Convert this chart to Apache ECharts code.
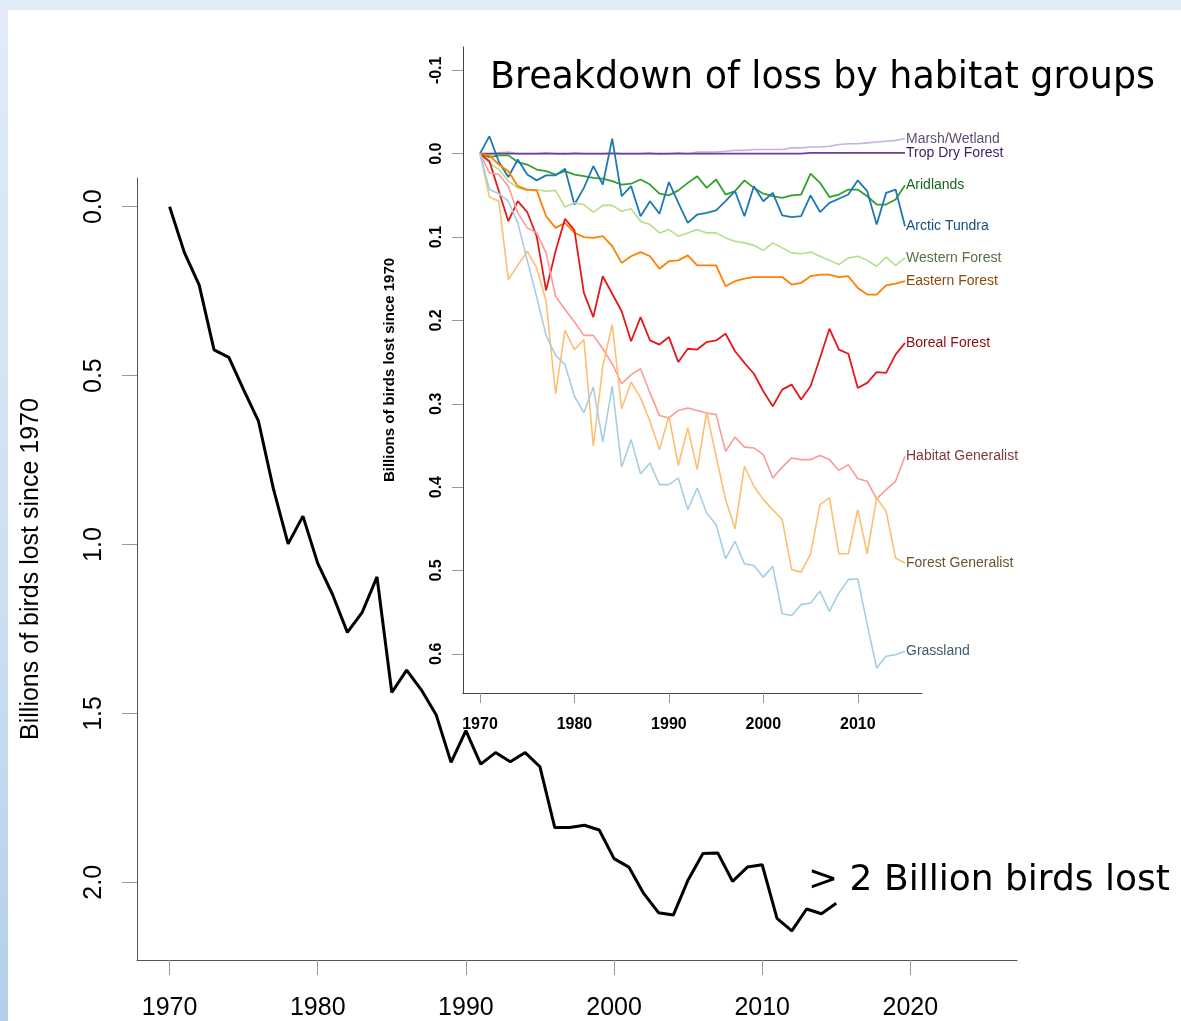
<!DOCTYPE html>
<html>
<head>
<meta charset="utf-8">
<script src="https://cdn.jsdelivr.net/npm/echarts@6/dist/echarts.min.js"></script>
<style>
  html, body { margin: 0; padding: 0; }
  body { width: 1181px; height: 1021px; position: relative; overflow: hidden;
         background: linear-gradient(to bottom, #e1ecf7 0%, #cbdff1 60%, #b4cfea 100%); }
  #panel { position: absolute; left: 8px; top: 10px; right: 0; bottom: 0; background: #ffffff; }
  #chart { position: absolute; left: 0; top: 0; width: 1181px; height: 1021px; }
</style>
</head>
<body>
<div id="panel"></div>
<div id="chart"></div>
<script>
// ---- data ----
const years = [1970,1971,1972,1973,1974,1975,1976,1977,1978,1979,
               1980,1981,1982,1983,1984,1985,1986,1987,1988,1989,
               1990,1991,1992,1993,1994,1995,1996,1997,1998,1999,
               2000,2001,2002,2003,2004,2005,2006,2007,2008,2009,
               2010,2011,2012,2013,2014,2015];

const totalLoss = [0.0,0.136,0.232,0.424,0.446,0.542,0.635,0.834,0.998,0.916,
                   1.056,1.148,1.26,1.201,1.096,1.438,1.372,1.431,1.505,1.645,
                   1.551,1.65,1.616,1.643,1.616,1.658,1.838,1.838,1.831,1.845,
                   1.93,1.955,2.033,2.09,2.097,1.993,1.915,1.913,1.997,1.955,
                   1.948,2.107,2.144,2.079,2.093,2.062];

const marshWetland = [0,0,-0.001,-0.002,0,0,0,-0.001,0,0.001,
                      -0.001,0,0,0,-0.001,0,0,0,-0.001,0.001,
                      0,-0.001,0,-0.002,-0.002,-0.002,-0.003,-0.004,-0.004,-0.005,
                      -0.005,-0.005,-0.005,-0.007,-0.007,-0.008,-0.008,-0.009,-0.011,-0.012,
                      -0.012,-0.013,-0.014,-0.015,-0.016,-0.018];

const tropDryForest = [0,0,0,0,0,0,0,0,0,0,
                       0,0,0,0,0,0,0,0,0,0,
                       0,0,0,0,0,0,0,0,0,0,
                       0,0,0,0,0,-0.001,-0.001,-0.001,-0.001,-0.001,
                       -0.001,-0.001,-0.001,-0.001,-0.001,-0.001];

const aridlands = [0,0.004,0.002,0.002,0.01,0.013,0.019,0.021,0.025,0.021,
                   0.025,0.027,0.029,0.03,0.033,0.037,0.036,0.031,0.037,0.048,
                   0.05,0.044,0.035,0.027,0.041,0.031,0.049,0.045,0.032,0.041,
                   0.048,0.051,0.053,0.05,0.049,0.024,0.035,0.052,0.049,0.043,
                   0.043,0.051,0.061,0.061,0.055,0.038];

const arcticTundra = [0,-0.021,0.01,0.028,0.007,0.025,0.032,0.026,0.026,0.018,
                      0.061,0.041,0.015,0.037,-0.018,0.051,0.039,0.075,0.057,0.072,
                      0.034,0.059,0.083,0.073,0.071,0.068,0.057,0.045,0.075,0.039,
                      0.057,0.047,0.074,0.076,0.075,0.05,0.07,0.059,0.054,0.049,
                      0.032,0.045,0.085,0.047,0.043,0.087];

const westernForest = [0,0.011,0.019,0.033,0.041,0.044,0.043,0.045,0.044,0.064,
                       0.059,0.061,0.07,0.062,0.062,0.069,0.066,0.081,0.085,0.095,
                       0.091,0.099,0.095,0.091,0.095,0.095,0.101,0.105,0.107,0.11,
                       0.116,0.107,0.113,0.119,0.12,0.118,0.123,0.128,0.133,0.125,
                       0.123,0.128,0.135,0.124,0.134,0.125];

const easternForest = [0,0.002,0.013,0.021,0.039,0.043,0.044,0.075,0.089,0.083,
                       0.095,0.1,0.101,0.099,0.111,0.131,0.123,0.118,0.123,0.138,
                       0.129,0.128,0.122,0.134,0.134,0.134,0.159,0.153,0.15,0.148,
                       0.148,0.148,0.148,0.157,0.155,0.147,0.145,0.145,0.148,0.147,
                       0.161,0.169,0.169,0.158,0.156,0.153];

const borealForest = [0,0.009,0.045,0.081,0.057,0.07,0.099,0.164,0.117,0.078,
                      0.092,0.167,0.196,0.147,0.168,0.189,0.225,0.196,0.224,0.229,
                      0.22,0.25,0.234,0.235,0.226,0.224,0.216,0.237,0.251,0.264,
                      0.285,0.303,0.283,0.277,0.295,0.279,0.245,0.21,0.235,0.24,
                      0.281,0.275,0.262,0.263,0.241,0.227];

const habitatGeneralist = [0,0.023,0.025,0.039,0.071,0.089,0.095,0.119,0.171,0.187,
                           0.202,0.218,0.218,0.234,0.252,0.276,0.265,0.258,0.287,0.314,
                           0.317,0.308,0.305,0.308,0.311,0.313,0.357,0.34,0.352,0.353,
                           0.361,0.389,0.376,0.365,0.367,0.367,0.362,0.367,0.38,0.373,
                           0.39,0.393,0.414,0.403,0.393,0.363];

const forestGeneralist = [0,0.052,0.057,0.151,0.134,0.117,0.137,0.177,0.288,0.212,
                          0.235,0.223,0.351,0.255,0.205,0.306,0.274,0.293,0.321,0.355,
                          0.315,0.374,0.329,0.379,0.31,0.363,0.415,0.45,0.375,0.399,
                          0.415,0.427,0.439,0.499,0.502,0.48,0.421,0.413,0.48,0.48,
                          0.427,0.48,0.413,0.429,0.485,0.491];

const grassland = [0,0.043,0.048,0.057,0.083,0.128,0.172,0.218,0.242,0.253,
                   0.291,0.311,0.28,0.346,0.279,0.376,0.343,0.384,0.371,0.397,
                   0.397,0.389,0.427,0.401,0.431,0.445,0.486,0.465,0.492,0.494,
                   0.508,0.495,0.552,0.554,0.541,0.539,0.525,0.549,0.527,0.511,
                   0.51,0.565,0.617,0.603,0.601,0.597];

const mainXTicks = [1970,1980,1990,2000,2010,2020];
const mainYTicks = [0,0.5,1,1.5,2];
const insetXTicks = [1970,1980,1990,2000,2010];
const insetYTicks = [-0.1,0,0.1,0.2,0.3,0.4,0.5,0.6];

const habitatSeries = [
  { name: 'Marsh/Wetland',      values: marshWetland,      color: '#CAB2D6', text: '#5e4e72', width: 1.6 },
  { name: 'Trop Dry Forest',    values: tropDryForest,     color: '#6A3D9A', text: '#3b1d63', width: 1.8 },
  { name: 'Aridlands',          values: aridlands,         color: '#33A02C', text: '#16661a', width: 1.8 },
  { name: 'Arctic Tundra',      values: arcticTundra,      color: '#1F78B4', text: '#174e7c', width: 1.8 },
  { name: 'Western Forest',     values: westernForest,     color: '#B2DF8A', text: '#566f44', width: 1.6 },
  { name: 'Eastern Forest',     values: easternForest,     color: '#FF7F00', text: '#8c4a08', width: 1.8 },
  { name: 'Boreal Forest',      values: borealForest,      color: '#E31A1C', text: '#8a0d10', width: 1.8 },
  { name: 'Habitat Generalist', values: habitatGeneralist, color: '#FB9A99', text: '#7c3a3c', width: 1.6 },
  { name: 'Forest Generalist',  values: forestGeneralist,  color: '#FDBF6F', text: '#6e5130', width: 1.6 },
  { name: 'Grassland',          values: grassland,         color: '#A6CEE3', text: '#3e5a6c', width: 1.6 }
];

// ---- chart ----
const chart = echarts.init(document.getElementById('chart'), null, { renderer: 'canvas', width: 1181, height: 1021 });
const pairs = (vals) => years.map((y, i) => [y, vals[i]]);
const fmt1 = (v) => (Math.round(v * 10) / 10).toFixed(1);
const fmtYear = (v) => String(Math.round(v));

const series = [{
  type: 'line', name: 'Total', xAxisIndex: 0, yAxisIndex: 0,
  data: pairs(totalLoss), showSymbol: false, silent: true,
  lineStyle: { color: '#000', width: 3 }, z: 3
}];
habitatSeries.forEach((s) => {
  series.push({
    type: 'line', name: s.name, xAxisIndex: 1, yAxisIndex: 1,
    data: pairs(s.values), showSymbol: false, silent: true,
    lineStyle: { color: s.color, width: s.width }, itemStyle: { color: s.color },
    endLabel: { show: true, formatter: s.name, color: s.text, fontFamily: 'Liberation Sans',
                fontSize: 14, distance: 1, letterSpacing: -0.3 },
    z: 4
  });
});

const option = {
  animation: false,
  backgroundColor: 'transparent',
  grid: [
    { left: 137, top: 178, width: 880, height: 785 },
    { left: 463, top: 47, width: 459, height: 646 }
  ],
  xAxis: [
    { type: 'value', gridIndex: 0, min: 1967.8, max: 2027.2, position: 'bottom',
      axisLine: { show: true, onZero: false, lineStyle: { color: '#555', width: 1 } },
      axisTick: { show: true, length: 15, lineStyle: { color: '#999', width: 1 }, customValues: mainXTicks },
      axisLabel: { customValues: mainXTicks, margin: 36, fontSize: 25, color: '#000', fontFamily: 'Liberation Sans',
                   formatter: fmtYear },
      splitLine: { show: false } },
    { type: 'value', gridIndex: 1, min: 1968.2, max: 2016.8, position: 'bottom',
      axisLine: { show: true, onZero: false, lineStyle: { color: '#444', width: 1 } },
      axisTick: { show: true, length: 10, lineStyle: { color: '#999', width: 1 }, customValues: insetXTicks },
      axisLabel: { customValues: insetXTicks, margin: 24, fontSize: 16, fontWeight: 'bold', color: '#000', fontFamily: 'Liberation Sans',
                   formatter: fmtYear },
      splitLine: { show: false } }
  ],
  yAxis: [
    { type: 'value', gridIndex: 0, inverse: true, min: -0.085, max: 2.23, position: 'left',
      name: 'Billions of birds lost since 1970', nameLocation: 'middle', nameRotate: 90, nameGap: 93,
      nameTextStyle: { fontSize: 25, color: '#000', fontFamily: 'Liberation Sans' },
      axisLine: { show: true, onZero: false, lineStyle: { color: '#555', width: 1 } },
      axisTick: { show: true, length: 15, lineStyle: { color: '#999', width: 1 }, customValues: mainYTicks },
      axisLabel: { customValues: mainYTicks, rotate: 90, margin: 30, fontSize: 25, color: '#000',
                   fontFamily: 'Liberation Sans', formatter: fmt1 },
      splitLine: { show: false } },
    { type: 'value', gridIndex: 1, inverse: true, min: -0.128, max: 0.647, position: 'left',
      name: 'Billions of birds lost since 1970', nameLocation: 'middle', nameRotate: 90, nameGap: 66,
      nameTextStyle: { fontSize: 15, fontWeight: 'bold', color: '#000', fontFamily: 'Liberation Sans' },
      axisLine: { show: true, onZero: false, lineStyle: { color: '#444', width: 1 } },
      axisTick: { show: true, length: 11, lineStyle: { color: '#999', width: 1 }, customValues: insetYTicks },
      axisLabel: { customValues: insetYTicks, rotate: 90, margin: 18, fontSize: 16, fontWeight: 'bold', color: '#000',
                   fontFamily: 'Liberation Sans', formatter: fmt1 },
      splitLine: { show: false } }
  ],
  graphic: [
    { type: 'text', silent: true, style: { text: 'Breakdown of loss by habitat groups', x: 490, y: 79,
      font: '36.4px "DejaVu Sans"', fill: '#000', textVerticalAlign: 'middle' } },
    { type: 'text', silent: true, style: { text: '> 2 Billion birds lost', x: 808, y: 881,
      font: '36px "DejaVu Sans"', fill: '#000', textVerticalAlign: 'middle' } }
  ],
  series: series
};
chart.setOption(option);
</script>
</body>
</html>
